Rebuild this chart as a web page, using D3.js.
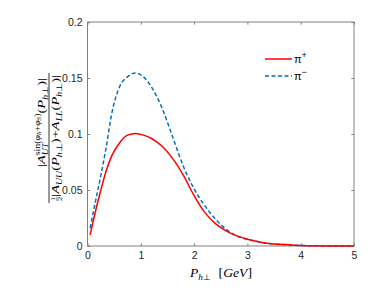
<!DOCTYPE html>
<html>
<head>
<meta charset="utf-8">
<script src="https://cdn.jsdelivr.net/npm/d3@7"></script>
<style>
  body { margin: 0; background: #fff; }
  svg { display: block; }
</style>
</head>
<body>
<div id="chart"></div>
<script>
// values
var pT = [0.05, 0.15, 0.25, 0.35, 0.45, 0.6, 0.75, 0.9, 1.05, 1.2, 1.4, 1.6, 1.8, 2.0, 2.2, 2.4, 2.6, 2.8, 3.0, 3.3, 3.6, 4.0, 4.5, 5.0];
var piPlus = [0.010, 0.031, 0.050, 0.067, 0.080, 0.092, 0.099, 0.1005, 0.099, 0.096, 0.089, 0.078, 0.063, 0.045, 0.030, 0.020, 0.0135, 0.009, 0.006, 0.003, 0.0015, 0.0005, 0.0001, 0];
var piMinus = [0.016, 0.040, 0.063, 0.088, 0.117, 0.142, 0.151, 0.1545, 0.151, 0.142, 0.123, 0.097, 0.071, 0.051, 0.036, 0.024, 0.015, 0.009, 0.006, 0.003, 0.0015, 0.0005, 0.0001, 0];
var xTicks = [0, 1, 2, 3, 4, 5];
var yTicks = [0, 0.05, 0.1, 0.15, 0.2];
var seriesNames = ["+", "\u2212"];

(function() {
    var width = 392,
        height = 293;

    var svg = d3.select("#chart")
        .append("svg")
        .attr("width", width)
        .attr("height", height);

    var x = d3.scaleLinear().domain([0, 5]).range([87.5, 354]);
    var y = d3.scaleLinear().domain([0, 0.2]).range([246, 22]);

    var axisColor = "#808080",
        textColor = "#262626";

    // box
    svg.append("rect")
        .attr("x", x(0))
        .attr("y", y(0.2))
        .attr("width", x(5) - x(0))
        .attr("height", y(0) - y(0.2))
        .attr("fill", "none")
        .attr("stroke", axisColor)
        .attr("stroke-width", 1);

    function styleAxis(g, showText) {
        g.select(".domain").remove();
        g.selectAll(".tick line").attr("stroke", axisColor);
        g.selectAll(".tick text")
            .attr("fill", textColor)
            .style("font-family", "'Liberation Sans', Arial, sans-serif")
            .style("font-size", "10.5px");
        if (!showText) g.selectAll(".tick text").remove();
    }

    svg.append("g")
        .attr("transform", "translate(0," + y(0) + ")")
        .call(d3.axisBottom(x).tickValues(xTicks).tickFormat(d3.format("d")).tickSize(-2.7).tickPadding(6))
        .call(styleAxis, true);
    svg.append("g")
        .attr("transform", "translate(0," + y(0.2) + ")")
        .call(d3.axisTop(x).tickValues(xTicks).tickSize(-2.7))
        .call(styleAxis, false);
    svg.append("g")
        .attr("transform", "translate(" + x(0) + ",0)")
        .call(d3.axisLeft(y).tickValues(yTicks).tickFormat(function(d) { return d3.format("")(+d.toFixed(2)); }).tickSize(-2.7).tickPadding(5))
        .call(styleAxis, true);
    svg.append("g")
        .attr("transform", "translate(" + x(5) + ",0)")
        .call(d3.axisRight(y).tickValues(yTicks).tickSize(-2.7))
        .call(styleAxis, false);

    var line = d3.line()
        .x(function(d) { return x(d[0]); })
        .y(function(d) { return y(d[1]); })
        .curve(d3.curveMonotoneX);

    var blueData = pT.map(function(p, i) { return [p, piMinus[i]]; });
    var redData = pT.map(function(p, i) { return [p, piPlus[i]]; });

    svg.append("path")
        .attr("d", line(blueData))
        .attr("fill", "none")
        .attr("stroke", "#0072bd")
        .attr("stroke-width", 1.5)
        .attr("stroke-dasharray", "4,2.5");

    svg.append("path")
        .attr("d", line(redData))
        .attr("fill", "none")
        .attr("stroke", "#ff0000")
        .attr("stroke-width", 1.5);

    // legend
    var legend = svg.append("g");
    [["#ff0000", null], ["#0072bd", "4,2.5"]].forEach(function(s, i) {
        var ly = 59 + i * 17;
        legend.append("line")
            .attr("x1", 265).attr("x2", 292)
            .attr("y1", ly).attr("y2", ly)
            .attr("stroke", s[0])
            .attr("stroke-width", 1.5)
            .attr("stroke-dasharray", s[1]);
        var t = legend.append("text")
            .attr("x", 294)
            .attr("y", ly + 4)
            .attr("fill", "#000")
            .style("font-family", "'Liberation Sans', Arial, sans-serif")
            .style("font-size", "11px");
        t.append("tspan").text("\u03c0");
        t.append("tspan").attr("dy", -5).style("font-size", "9px").text(seriesNames[i]);
    });

    // latex-ish text: pieces of [text, size, dy, italic, back]
    var serif = "'Liberation Serif', 'Times New Roman', serif";
    function mathText(parent, pieces) {
        var g = parent.append("g");
        var inner = g.append("g");
        var cx = 0, saved = 0;
        pieces.forEach(function(p) {
            if (p === "save") { saved = cx; return; }
            if (p === "restore") { cx = saved; return; }
            var t = inner.append("text")
                .attr("x", cx)
                .attr("y", p[2] || 0)
                .attr("fill", "#000")
                .style("font-family", serif)
                .style("font-size", p[1] + "px")
                .style("font-style", p[3] ? "italic" : "normal")
                .text(p[0]);
            var w = t.node().getComputedTextLength();
            if (!p[4]) cx += w;
        });
        g.datum(cx);
        return g;
    }

    // fit a math group to a given start and width
    function fit(g, x0, w, y0) {
        var sx = w / g.datum();
        g.attr("transform", "translate(" + x0 + "," + y0 + ")");
        g.select("g").attr("transform", "scale(" + sx + ",1)");
    }

    var S = 11, s = 7.5, ss = 5.5;

    // x label
    var xl = mathText(svg, [
        ["P", 12.5, 0, true], ["h", 8.5, 3, true], ["\u22a5", 8.5, 3, false],
        ["\u2002[", 12.5, 0, false], ["GeV", 12.5, 0, true], ["]", 12.5, 0, false]
    ]);
    fit(xl, 190, 62, 277);

    // y label
    var yl = svg.append("g").attr("transform", "translate(49,138) rotate(-90)");

    var num = [
        ["|", S, 0, false], ["A", S, 0, true],
        "save",
        ["U", s, 3, true], ["T", s, 3, true],
        "restore",
        ["sin(", s, -5.5, false], ["\u03c6", s, -5.5, true], ["h", ss, -4, true],
        ["+", s, -5.5, false], ["\u03c6", s, -5.5, true], ["S", ss, -4, true], [")", s, -5.5, false],
        ["(", S, 0, false], ["P", S, 0, true], ["h", s, 3, true], ["\u22a5", s, 3, false], [")", S, 0, false], ["|", S, 0, false]
    ];
    var numG = mathText(yl, num);
    fit(numG, -29, 89, -4);

    var den = [
        ["1", 6.5, -3.5, false, true],
        ["2", 6.5, 3.5, false],
        ["|", S, 0, false], ["A", S, 0, true], ["U", s, 3, true], ["U", s, 3, true],
        ["(", S, 0, false], ["P", S, 0, true], ["h", s, 3, true], ["\u22a5", s, 3, false], [")", S, 0, false],
        ["+", S, 0, false],
        ["A", S, 0, true], ["L", s, 3, true], ["L", s, 3, true],
        ["(", S, 0, false], ["P", S, 0, true], ["h", s, 3, true], ["\u22a5", s, 3, false], [")", S, 0, false], ["|", S, 0, false]
    ];
    var denG = mathText(yl, den);
    denG.select("g").append("line")
        .attr("x1", 0).attr("x2", 3.3)
        .attr("y1", -1.5).attr("y2", -1.5)
        .attr("stroke", "#000").attr("stroke-width", 0.5);
    fit(denG, -63, 126, 9.5);

    yl.append("line")
        .attr("x1", -65).attr("x2", 65)
        .attr("y1", 0).attr("y2", 0)
        .attr("stroke", "#000")
        .attr("stroke-width", 0.8);
})();
</script>
</body>
</html>
